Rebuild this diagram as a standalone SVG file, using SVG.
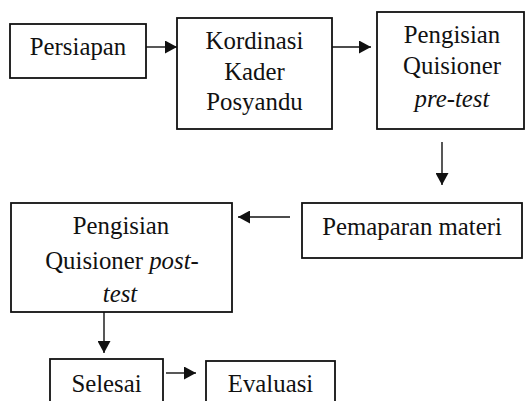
<svg xmlns="http://www.w3.org/2000/svg" width="525" height="401" viewBox="0 0 525 401">
<style>
.box{fill:#fff;stroke:#111;stroke-width:1.8}
.i{font-style:italic}
.c{stroke:#111;stroke-width:1.4;fill:none;marker-end:url(#ah)}
</style>
<defs>
<marker id="ah" markerUnits="userSpaceOnUse" markerWidth="13" markerHeight="13" refX="12" refY="6.5" orient="auto">
<path d="M0,0 L12,6.5 L0,13 z" fill="#111"/>
</marker>
</defs>
<rect width="525" height="401" fill="#fff"/>
<g font-family="Liberation Serif, DejaVu Serif, serif" font-size="24.8" fill="#111" text-anchor="middle">
<g id="n-persiapan">
<rect class="box" x="10" y="24" width="136" height="54"/>
<text x="78" y="55">Persiapan</text>
</g>
<g id="n-kordinasi">
<rect class="box" x="177" y="18" width="155" height="111"/>
<text x="254.5" y="49">Kordinasi</text>
<text x="254.5" y="80">Kader</text>
<text x="254.5" y="110">Posyandu</text>
</g>
<g id="n-pretest">
<rect class="box" x="377" y="12" width="147" height="117"/>
<text x="452" y="43">Pengisian</text>
<text x="452" y="74">Quisioner</text>
<text class="i" x="452" y="107">pre-test</text>
</g>
<g id="n-pemaparan">
<rect class="box" x="302" y="203" width="220" height="55"/>
<text x="412" y="235">Pemaparan materi</text>
</g>
<g id="n-posttest">
<rect class="box" x="11" y="203" width="221" height="109"/>
<text x="121" y="234">Pengisian</text>
<text x="122" y="269">Quisioner <tspan class="i">post-</tspan></text>
<text class="i" x="120" y="302">test</text>
</g>
<g id="n-selesai">
<rect class="box" x="50" y="359" width="113" height="60"/>
<text x="106.5" y="392">Selesai</text>
</g>
<g id="n-evaluasi">
<rect class="box" x="206" y="361" width="129" height="60"/>
<text x="270.5" y="392">Evaluasi</text>
</g>
</g>
<g id="connectors">
<line class="c" x1="146" y1="47" x2="177" y2="47"/>
<line class="c" x1="332" y1="47" x2="371" y2="47"/>
<line class="c" x1="442" y1="142" x2="442" y2="185"/>
<line class="c" x1="290" y1="217" x2="238" y2="217"/>
<line class="c" x1="104" y1="312" x2="104" y2="353"/>
<line class="c" x1="166" y1="373" x2="196" y2="373"/>
</g>
</svg>
